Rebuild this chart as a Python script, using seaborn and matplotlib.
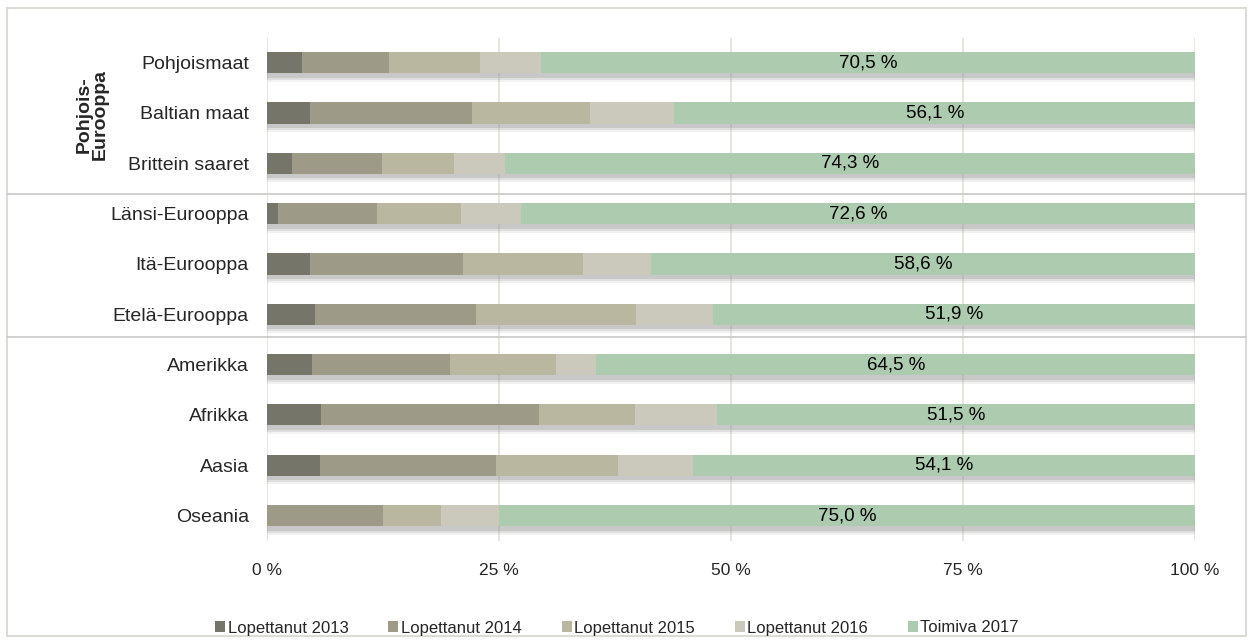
import matplotlib
matplotlib.use("Agg")
import matplotlib.pyplot as plt
import seaborn as sns
import numpy as np
from matplotlib.patches import Rectangle, Patch
from matplotlib.lines import Line2D

categories = ["Pohjoismaat", "Baltian maat", "Brittein saaret", "Länsi-Eurooppa",
              "Itä-Eurooppa", "Etelä-Eurooppa", "Amerikka", "Afrikka", "Aasia", "Oseania"]
lop2013 = [3.8, 4.6, 2.7, 1.2, 4.6, 5.2, 4.8, 5.8, 5.7, 0.0]
lop2014 = [9.3, 17.5, 9.7, 10.7, 16.5, 17.3, 14.9, 23.5, 19.0, 12.5]
lop2015 = [9.9, 12.7, 7.7, 9.0, 12.9, 17.3, 11.4, 10.4, 13.1, 6.25]
lop2016 = [6.5, 9.1, 5.6, 6.5, 7.4, 8.3, 4.4, 8.8, 8.1, 6.25]
toimiva2017 = [70.5, 56.1, 74.3, 72.6, 58.6, 51.9, 64.5, 51.5, 54.1, 75.0]
series_names = ["Lopettanut 2013", "Lopettanut 2014", "Lopettanut 2015",
                "Lopettanut 2016", "Toimiva 2017"]
tick_values = [0, 25, 50, 75, 100]
tick_labels = ["0 %", "25 %", "50 %", "75 %", "100 %"]
group_label = "Pohjois-\nEurooppa"

colors = ["#76756a", "#9d9b88", "#b9b7a0", "#cbc9bb", "#adcbaf"]

sns.set_theme(style="white")
plt.rcParams["font.family"] = ["Liberation Sans", "DejaVu Sans"]

W, H = 1253, 643
fig = plt.figure(figsize=(W / 100, H / 100), dpi=100)
ax_left, ax_right = 267 / W, 1195 / W
ax_top, ax_bot = 37.5 / H, 540.7 / H
ax = fig.add_axes([ax_left, 1 - ax_bot, ax_right - ax_left, ax_bot - ax_top])

series = [lop2013, lop2014, lop2015, lop2016, toimiva2017]
cum = np.cumsum(np.array(series), axis=0)
bar_h = 0.42

# soft shadow below bars
ypos = np.arange(len(categories))
for off, a in [(0.17, 0.12), (0.13, 0.18), (0.09, 0.28)]:
    ax.barh(ypos + off, cum[-1], height=bar_h, color="#8f8f8f", alpha=a,
            linewidth=0, zorder=1)

# stacked bars drawn from total downwards
for i in range(len(series) - 1, -1, -1):
    sns.barplot(x=cum[i], y=categories, orient="h", color=colors[i],
                saturation=1, width=bar_h, ax=ax, linewidth=0, zorder=3)

# labels in green segment
for j in range(len(categories)):
    start = cum[3][j]
    ax.text((start + 100) / 2, j, f"{toimiva2017[j]:.1f} %".replace(".", ","),
            ha="center", va="center", fontsize=13.5, color="black", zorder=5)

ax.set_xlim(0, 100)
ax.set_ylim(9.5, -0.5)
ax.set_xticks(tick_values)
ax.set_xticklabels(tick_labels, fontsize=12.5)
ax.tick_params(axis="x", pad=16, length=0)
ax.tick_params(axis="y", pad=13, length=0, labelsize=14)
ax.set_xlabel("")
ax.set_ylabel("")
for s in ax.spines.values():
    s.set_visible(False)
ax.grid(axis="x", color="#e2e2dc", linewidth=1.2, zorder=0)
ax.set_axisbelow(True)

# frame and group separators
fig.add_artist(Rectangle((7 / W, 1 - 636 / H), (1246 - 7) / W, (636 - 8) / H,
                         transform=fig.transFigure, fill=False,
                         edgecolor="#dcdcd6", linewidth=1.5))
for yy in [194, 337]:
    fig.add_artist(Line2D([7 / W, 1246 / W], [1 - yy / H, 1 - yy / H],
                          transform=fig.transFigure, color="#c8c8c8", linewidth=1.2))

fig.text(92 / W, 1 - 115 / H, group_label, rotation=90, ha="center", va="center",
         fontsize=14, fontweight="bold", multialignment="center", linespacing=0.95)

handles = [Patch(facecolor=c, edgecolor="none") for c in colors]
fig.legend(handles, series_names, loc="center", bbox_to_anchor=(617 / W, 1 - 628 / H),
           ncol=5, frameon=False, fontsize=12, handlelength=0.6, handleheight=0.6,
           handletextpad=0.15, columnspacing=2.4)

fig.savefig("out.png", dpi=100)
